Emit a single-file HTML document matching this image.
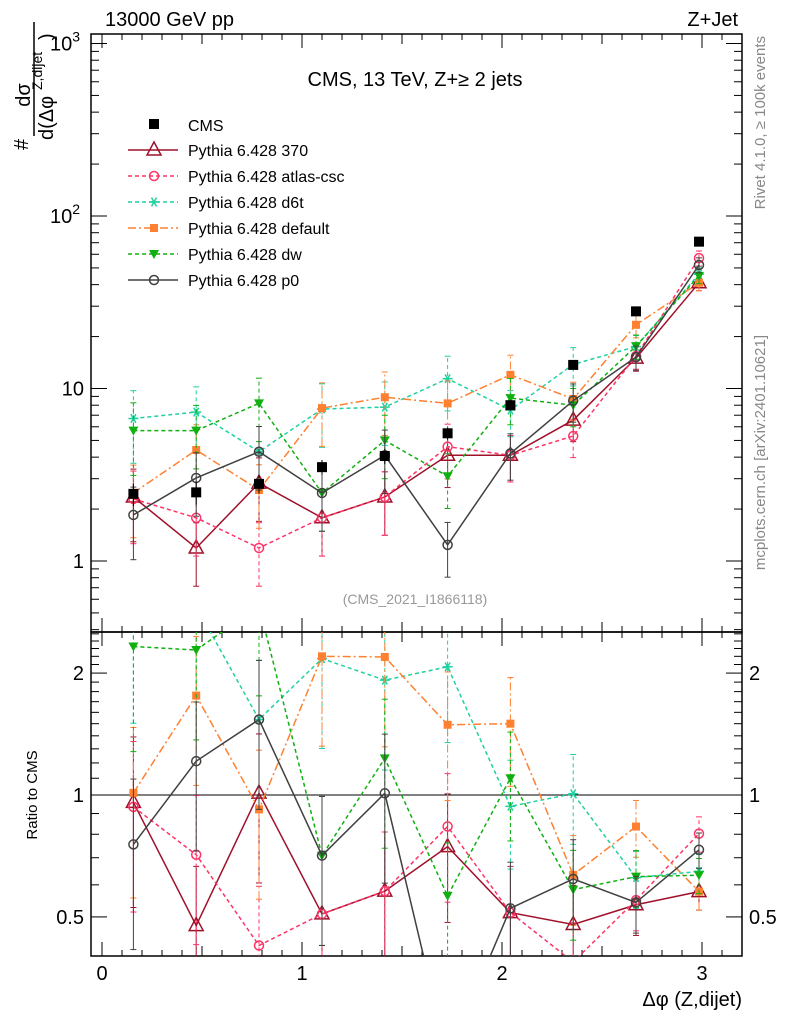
<!DOCTYPE html>
<html><head><meta charset="utf-8">
<style>
html,body{margin:0;padding:0;background:#fff;overflow:hidden;width:786px;height:1024px;}
svg{display:block;font-family:"Liberation Sans",sans-serif;}
</style></head>
<body>
<svg id="chart" width="786" height="1024" viewBox="0 0 786 1024">
<g id="g"></g>
</svg>
<script>
const categories=[0.157,0.471,0.785,1.100,1.414,1.728,2.042,2.356,2.670,2.985];
const cmsValues=[2.45,2.5,2.8,3.5,4.06,5.5,8.0,13.7,28,71];
const cmsErrors=[0.15,0.15,0.12,0.1,0.1,0.08,0.07,0.06,0.05,0.04];
const seriesNames=["Pythia 6.428 370","Pythia 6.428 atlas-csc","Pythia 6.428 d6t","Pythia 6.428 default","Pythia 6.428 dw","Pythia 6.428 p0"];
const v370=[2.35,1.19,2.83,1.78,2.35,4.1,4.1,6.56,15,41];
const vAtlas=[2.29,1.78,1.19,1.78,2.35,4.6,4.1,5.3,15.4,57];
const vD6t=[6.7,7.3,4.3,7.6,7.8,11.4,7.5,13.8,17.5,46];
const vDefault=[2.48,4.4,2.58,7.7,8.9,8.2,12,8.7,23.4,41];
const vDw=[5.7,5.7,8.2,2.48,5.0,3.1,8.8,8.0,17.6,45];
const vP0=[1.85,3.03,4.3,2.48,4.1,1.24,4.2,8.5,15.2,52];
const relErr=[0.45,0.4,0.4,0.4,0.4,0.35,0.3,0.25,0.16,0.1];

const NS="http://www.w3.org/2000/svg";
const g=document.getElementById('g');
function el(tag,attrs,parent){const e=document.createElementNS(NS,tag);for(const k in attrs)e.setAttribute(k,attrs[k]);(parent||g).appendChild(e);return e;}
const L=91,R=742,T=34,M=632,B=956;
const X=v=>102+200*v;
const Y=v=>561-172.5*Math.log10(v);
const YR=v=>795-405*Math.log10(v);
function clipRect(id,y0,y1){const c=el('clipPath',{id:id});el('rect',{x:L,y:y0,width:R-L,height:y1-y0},c);}
clipRect('cu',T,M);clipRect('cl',M,B);

let f=el('rect',{x:L,y:T,width:R-L,height:M-T,fill:'none',stroke:'#000','stroke-width':1.5});

f=el('rect',{x:L,y:M,width:R-L,height:B-M,fill:'none',stroke:'#000','stroke-width':1.5});


for(let i=0;i<=31;i++){const v=i/10,x=X(v);if(x<L||x>R)continue;
 const len=(i%10==0)?14:(i%5==0?10:6);
 for(const yb of [M,B]){el('line',{x1:x,x2:x,y1:yb,y2:yb-len,stroke:'#000'});}
 el('line',{x1:x,x2:x,y1:T,y2:T+len,stroke:'#000'});el('line',{x1:x,x2:x,y1:M,y2:M+len,stroke:'#000'});
}
for(let i=0;i<=3;i++){let t=el('text',{x:X(i),y:980,'font-size':20,'text-anchor':'middle'});t.textContent=i;
 }
for(let d=-1;d<=3;d++)for(let m=1;m<10;m++){const v=m*Math.pow(10,d),y=Y(v);if(y<T||y>M)continue;
 const len=m==1?16:8;el('line',{x1:L,x2:L+len,y1:y,y2:y,stroke:'#000'});el('line',{x1:R,x2:R-len,y1:y,y2:y,stroke:'#000'});}
[[1,'1'],[10,'10']].forEach(([v,s])=>{let t=el('text',{x:84,y:Y(v)+7,'font-size':20,'text-anchor':'end'});t.textContent=s;});
[[100,'2'],[1000,'3']].forEach(([v,s])=>{let t=el('text',{x:80,y:Y(v)+7,'font-size':20,'text-anchor':'end'});t.textContent='10';let tp=el('tspan',{dy:-9,'font-size':14},t);tp.textContent=s;});
for(let i=4;i<=25;i++){const v=i/10,y=YR(v);if(y<M||y>B)continue;const major=(v==0.5||v==1||v==2);const len=major?16:8;
 el('line',{x1:L,x2:L+len,y1:y,y2:y,stroke:'#000'});el('line',{x1:R,x2:R-len,y1:y,y2:y,stroke:'#000'});}
[[0.5,'0.5'],[1,'1'],[2,'2']].forEach(([v,s])=>{for(const [x,a] of [[84,'end'],[749,'start']]){let t=el('text',{x:x,y:YR(v)+7,'font-size':20,'text-anchor':a});t.textContent=s;}});
el('line',{x1:L,x2:R,y1:YR(1),y2:YR(1),stroke:'#000'});

function txt(x,y,s,size,attrs,name){let t=el('text',Object.assign({x:x,y:y,'font-size':size},attrs||{}));t.textContent=s;return t;}
txt(105,26,'13000 GeV pp',20,{},'energy-label');
txt(738,26,'Z+Jet',20,{'text-anchor':'end'},'process-label');
txt(415,86,'CMS, 13 TeV, Z+≥ 2 jets',20,{'text-anchor':'middle'},'plot-title');
txt(415,604,'(CMS_2021_I1866118)',14,{'text-anchor':'middle',fill:'#999'},'analysis-id');
txt(742,1006,'Δφ (Z,dijet)',20,{'text-anchor':'end'},'x-axis-title');
txt(0,0,'Ratio to CMS',15,{'text-anchor':'middle',transform:'translate(37,795) rotate(-90)'},'ratio-axis-title');
txt(0,0,'Rivet 4.1.0, ≥ 100k events',15,{'text-anchor':'end',fill:'#888',transform:'translate(765,36) rotate(-90)'},'rivet-label');
txt(0,0,'mcplots.cern.ch [arXiv:2401.10621]',15,{'text-anchor':'end',fill:'#888',transform:'translate(765,335) rotate(-90)'},'mcplots-label');
const yt=el('g',{transform:'rotate(-90)'});
let t1=el('text',{x:-150,y:28,'font-size':20},yt);t1.textContent='#';
let t2=el('text',{x:-95,y:30,'font-size':20,'text-anchor':'middle'},yt);t2.textContent='dσ';
el('line',{x1:-136,x2:-22,y1:34,y2:34,stroke:'#000','stroke-width':1.5},yt);
let t3=el('text',{x:-140,y:53,'font-size':20},yt);t3.textContent='d(Δφ';
let t4=el('text',{x:-90,y:42,'font-size':14},yt);t4.textContent='Z,dijet';
let t5=el('text',{x:-40,y:53,'font-size':20},yt);t5.textContent=')';

function marker(type,x,y,col,parent){
 if(type=='sq')el('rect',{x:x-5,y:y-5,width:10,height:10,fill:col},parent);
 else if(type=='sqs')el('rect',{x:x-4,y:y-4,width:8,height:8,fill:col},parent);
 else if(type=='tri')el('path',{d:`M${x},${y-8}L${x+7},${y+5}L${x-7},${y+5}Z`,fill:'none',stroke:col,'stroke-width':1.5},parent);
 else if(type=='circ')el('circle',{cx:x,cy:y,r:4.5,fill:'none',stroke:col,'stroke-width':1.5},parent);
 else if(type=='dtri')el('path',{d:`M${x-5},${y-4}L${x+5},${y-4}L${x},${y+5}Z`,fill:col},parent);
 else if(type=='star'){for(const a of [0,60,120]){const r=a*Math.PI/180;el('line',{x1:x-5*Math.cos(r),y1:y-5*Math.sin(r),x2:x+5*Math.cos(r),y2:y+5*Math.sin(r),stroke:col,'stroke-width':1.5},parent);}}
}
const styles=[
 {vals:v370,col:'#a0102a',dash:'',mk:'tri',name:'series-370'},
 {vals:vAtlas,col:'#ff3366',dash:'4,3',mk:'circ',name:'series-atlas-csc'},
 {vals:vD6t,col:'#20d0a0',dash:'4,3',mk:'star',name:'series-d6t'},
 {vals:vDefault,col:'#ff8030',dash:'8,3,2,3',mk:'sqs',name:'series-default'},
 {vals:vDw,col:'#10b010',dash:'4,3',mk:'dtri',name:'series-dw'},
 {vals:vP0,col:'#404040',dash:'',mk:'circ',name:'series-p0'}];

styles.forEach(s=>{
 for(const panel of ['u','l']){
  const grp=el('g',{'clip-path':`url(#c${panel})`});
  
  
  const fy=panel=='u'?(i=>Y(s.vals[i])):(i=>YR(s.vals[i]/cmsValues[i]));
  const fe=panel=='u'?((i,k)=>Y(s.vals[i]*(1+k*relErr[i]))):((i,k)=>YR(s.vals[i]*(1+k*relErr[i])/cmsValues[i]));
  categories.forEach((c,i)=>{const lo=Math.max(0.01,1-relErr[i]);
   const ylo=panel=='u'?Y(s.vals[i]*lo):YR(s.vals[i]*lo/cmsValues[i]);
   const yhi=fe(i,1);
   el('line',{x1:X(c),x2:X(c),y1:ylo,y2:yhi,stroke:s.col,'stroke-dasharray':s.dash},grp);
   el('line',{x1:X(c)-3,x2:X(c)+3,y1:ylo,y2:ylo,stroke:s.col},grp);
   el('line',{x1:X(c)-3,x2:X(c)+3,y1:yhi,y2:yhi,stroke:s.col},grp);});
  el('polyline',{points:categories.map((c,i)=>X(c)+','+fy(i)).join(' '),fill:'none',stroke:s.col,'stroke-width':1.5,'stroke-dasharray':s.dash},grp);
  categories.forEach((c,i)=>marker(s.mk,X(c),fy(i),s.col,grp));
 }
});
const cg=el('g',{'clip-path':'url(#cu)'});
categories.forEach((c,i)=>{el('line',{x1:X(c),x2:X(c),y1:Y(cmsValues[i]*(1-cmsErrors[i])),y2:Y(cmsValues[i]*(1+cmsErrors[i])),stroke:'#000'},cg);marker('sq',X(c),Y(cmsValues[i]),'#000',cg);});

const leg=el('g',{});
const le=el('g',{},leg);
marker('sq',154,124,'#000',le);txt(188,131,'CMS',16,{},'legend-label');
styles.forEach((s,k)=>{const y=150+26*k;const e=el('g',{},leg);
 el('line',{x1:128,x2:178,y1:y,y2:y,stroke:s.col,'stroke-width':1.5,'stroke-dasharray':s.dash},e);marker(s.mk,154,y,s.col,e);
 let t=el('text',{x:188,y:y+6,'font-size':16},e);t.textContent=seriesNames[k];});
</script>
</body></html>
